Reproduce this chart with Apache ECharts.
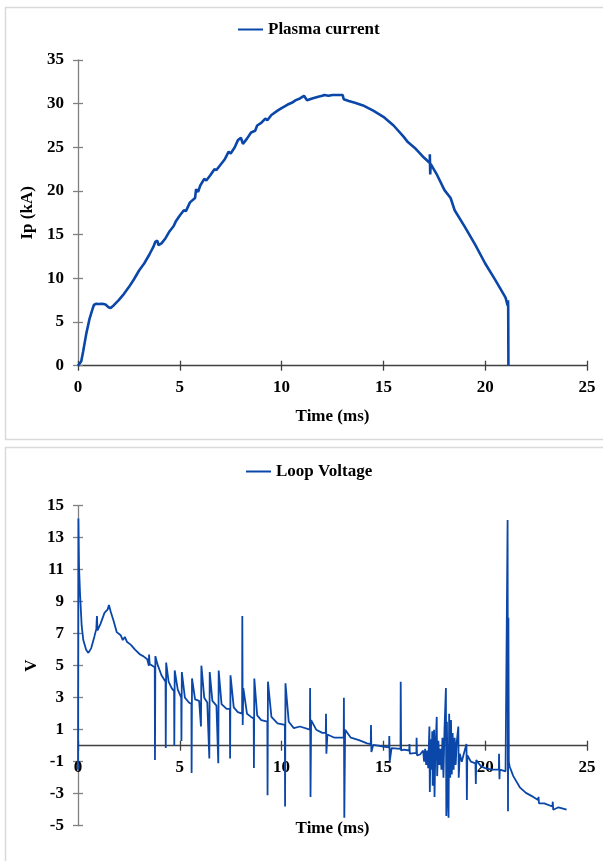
<!DOCTYPE html>
<html>
<head>
<meta charset="utf-8">
<script src="https://cdn.jsdelivr.net/npm/echarts@6/dist/echarts.min.js"></script>
<style>
html,body{margin:0;padding:0;background:#fff;}
#chart{width:603px;height:861px;}
</style>
</head>
<body>
<div id="chart"></div>
<script>
// ---------- DATA ----------
var plasmaTime = [0,0.08,0.16,0.25,0.41,0.57,0.7,0.78,0.9,1.0,1.2,1.35,1.5,1.6,1.75,2.0,2.25,2.5,2.75,3.0,3.25,3.5,3.7,3.8,3.9,3.95,4.1,4.3,4.5,4.7,4.8,4.85,5.0,5.2,5.3,5.5,5.75,5.8,5.9,6.0,6.2,6.3,6.5,6.7,6.8,7.0,7.2,7.4,7.5,7.7,7.85,8.0,8.1,8.3,8.5,8.7,8.8,9.0,9.2,9.3,9.5,9.8,10.0,10.3,10.5,10.7,10.9,11.1,11.25,11.5,11.8,12.0,12.1,12.3,12.5,13.0,13.05,13.3,13.6,14.0,14.5,15.0,15.5,16.0,16.2,16.3,16.6,17.0,17.28,17.28,17.3,17.32,17.6,18.0,18.3,18.5,19.0,19.5,20.0,20.5,21.0,21.1,21.12,21.13,21.14];
var plasmaCurrent = [0,0.1,0.5,1.6,3.7,5.4,6.4,6.95,7.1,7.07,7.1,7.0,6.7,6.6,6.9,7.5,8.2,9.0,9.9,10.9,11.7,12.7,13.6,14.2,14.3,13.8,14.0,14.6,15.4,16.0,16.5,16.3,17.2,17.8,17.7,18.7,19.2,20.2,19.9,20.6,21.4,21.2,21.8,22.5,22.4,23.0,23.6,24.5,24.3,25.0,25.8,26.1,25.4,26.0,26.7,26.9,27.5,27.8,28.3,28.1,28.7,29.2,29.5,29.9,30.1,30.4,30.6,30.9,30.4,30.6,30.8,30.9,31.0,30.9,31.0,31.0,30.5,30.3,30.1,29.8,29.2,28.5,27.5,26.2,25.6,25.4,24.8,23.8,23.2,24.2,21.9,23.1,22.0,20.1,19.2,17.8,15.9,13.9,11.7,9.8,7.8,6.9,7.5,6.6,0];

var loopTime = [0,0.02,0.05,0.1,0.18,0.26,0.4,0.51,0.65,0.8,0.9,0.93,0.96,1.1,1.3,1.45,1.52,1.6,1.75,1.9,2.1,2.2,2.3,2.4,2.6,2.8,3.05,3.2,3.4,3.48,3.49,3.52,3.6,3.77,3.78,3.8,3.9,4.1,4.3,4.31,4.33,4.45,4.6,4.72,4.73,4.75,4.9,5.07,5.08,5.1,5.25,5.45,5.57,5.58,5.6,5.75,5.95,6.03,6.04,6.06,6.2,6.35,6.44,6.45,6.47,6.6,6.8,6.88,6.89,6.91,7.05,7.3,7.46,7.47,7.49,7.65,7.85,8.06,8.07,8.09,8.12,8.3,8.5,8.63,8.64,8.66,8.8,9.0,9.3,9.31,9.33,9.5,9.8,10.16,10.17,10.19,10.35,10.6,10.9,11.39,11.4,11.42,11.45,11.7,12.0,12.17,12.18,12.2,12.25,12.6,13.05,13.06,13.08,13.12,13.4,13.8,14.2,14.38,14.39,14.41,14.5,15.0,15.28,15.29,15.31,15.4,15.84,15.85,15.87,16.0,16.27,16.28,16.3,16.62,16.63,16.65,16.8,16.95,17.0,17.05,17.1,17.15,17.2,17.26,17.28,17.32,17.36,17.4,17.42,17.49,17.51,17.55,17.62,17.64,17.7,17.75,17.8,17.85,17.9,17.95,18.0,18.07,18.09,18.12,18.15,18.2,18.23,18.28,18.32,18.36,18.4,18.45,18.5,18.55,18.6,18.68,18.7,18.75,18.85,18.95,19.08,19.1,19.12,19.3,19.52,19.54,19.56,19.8,20.0,20.3,20.67,20.68,20.7,20.72,21.0,21.08,21.1,21.12,21.14,21.16,21.2,21.38,21.7,22.0,22.36,22.6,22.62,22.64,22.9,23.3,23.32,23.34,23.6,24.0];
var loopVoltage = [-1.5,14.2,11.2,9.5,7.5,6.6,6.0,5.8,6.1,6.8,7.3,8.1,7.2,7.6,8.3,8.5,8.8,8.4,7.8,7.1,6.9,6.6,6.8,6.5,6.3,6.0,5.7,5.6,5.4,5.0,5.7,5.1,5.0,4.9,-0.9,5.6,5.1,4.4,4.0,-0.15,5.2,4.0,3.6,3.4,0.0,4.7,3.5,3.0,0.3,4.6,3.0,2.7,2.6,-1.7,4.2,2.9,2.8,2.9,1.2,5.0,3.0,2.7,2.6,-0.8,4.6,2.8,2.5,2.5,-1.1,4.7,2.6,2.3,2.3,-0.8,4.4,2.4,2.1,2.0,8.1,1.3,3.6,2.0,1.8,1.7,-1.4,4.2,1.9,1.6,1.5,-3.1,4.0,1.8,1.4,1.3,-3.8,3.9,1.5,1.1,1.2,1.0,3.6,-3.2,1.6,1.0,0.8,0.8,2.0,-0.5,0.7,0.5,0.5,3.0,-4.5,1.0,0.5,0.35,0.15,0.1,1.3,-0.4,0.05,-0.05,-0.1,0.6,-1.0,-0.15,-0.2,4.0,-0.3,-0.25,-0.3,0.1,-0.5,-0.45,0.5,-0.6,-0.55,-0.3,-1.0,-0.2,-1.2,-0.3,-1.4,1.2,-2.9,0.4,-1.5,0.9,-2.5,1.0,-3.2,-0.5,1.8,-1.9,0.3,-1.2,-0.2,-1.5,0.5,-2.0,1.0,3.6,-4.4,1.5,-2.5,-4.5,2.0,-2.0,1.6,-1.8,0.8,-1.5,0.5,-1.2,0.2,1.2,-2.0,-0.5,-1.0,-0.5,0.1,-3.4,-0.6,-1.0,-1.1,-2.4,-0.9,-1.3,-1.4,-1.5,-1.5,-0.5,-2.1,-1.5,-1.6,-1.6,14.1,-4.1,8.0,-1.0,-1.3,-1.9,-2.6,-2.95,-3.2,-3.4,-3.2,-3.6,-3.6,-3.8,-3.5,-4.0,-3.85,-4.0];

var timeTicks = [0,5,10,15,20,25];
var currentTicks = [0,5,10,15,20,25,30,35];
var voltageTicks = [-5,-3,-1,1,3,5,7,9,11,13,15];

// ---------- BUILD ----------
function zip(a,b){var r=[];for(var i=0;i<a.length;i++)r.push([a[i],b[i]]);return r;}
var FONT = 'Liberation Serif';
var LINE = '#0a47a9';
var labelStyle = {fontFamily:FONT,fontWeight:'bold',fontSize:17,color:'#000'};
var nameStyle = {fontFamily:FONT,fontWeight:'bold',fontSize:17,color:'#000'};

// bottom panel: voltage axis spans -5..15 over 320px, so the zero line sits 5/20 of the height above the bottom
var bottomGridH = 320;
var zeroOffset = -bottomGridH * (0 - (-5)) / (15 - (-5));

function xAx(grid, main, name, gap, offset){
  return {
    type:'value', gridIndex:grid, min:0, max:25, position:'bottom', offset:offset,
    name: main ? name : '', nameLocation:'middle', nameGap:gap, nameTextStyle:nameStyle, nameMoveOverlap:false,
    axisLine:{show:main, onZero:false, lineStyle:{color:'#404040',width:1.3}},
    axisTick:{show:true, inside:!main, length:5, customValues:timeTicks, lineStyle:{color:'#404040',width:1.3}},
    axisLabel:{show:main, margin:13, customValues:timeTicks, ...labelStyle},
    splitLine:{show:false}
  };
}
function yAx(grid, main, name, gap, min, max, ticks){
  return {
    type:'value', gridIndex:grid, min:min, max:max, position:'left',
    name: main ? name : '', nameLocation:'middle', nameGap:gap, nameTextStyle:nameStyle, nameMoveOverlap:false,
    axisLine:{show:main, onZero:false, lineStyle:{color:'#808080',width:1.3}},
    axisTick:{show:true, inside:!main, length:5, customValues:ticks, lineStyle:{color:'#808080',width:1.3}},
    axisLabel:{show:main, margin:14, customValues:ticks, ...labelStyle},
    splitLine:{show:false}
  };
}

var chart = echarts.init(document.getElementById('chart'), null, {renderer:'canvas'});
chart.setOption({
  animation:false,
  backgroundColor:'#fff',
  graphic:[
    {type:'rect', shape:{x:5.5,y:7.5,width:620,height:432}, style:{fill:'none',stroke:'#d9d9d9',lineWidth:1.5}, z:-10},
    {type:'rect', shape:{x:5.5,y:447.5,width:620,height:440}, style:{fill:'none',stroke:'#d9d9d9',lineWidth:1.5}, z:-10}
  ],
  grid:[
    {left:78, top:60, width:509, height:305.7, outerBoundsMode:'none', containLabel:false},
    {left:78, top:505.7, width:509, height:bottomGridH, outerBoundsMode:'none', containLabel:false}
  ],
  legend:[
    {left:238, top:21, padding:0, icon:'rect', itemWidth:25, itemHeight:2, data:['Plasma current'],
     textStyle:{fontFamily:FONT,fontWeight:'bold',fontSize:17,color:'#000'}},
    {left:246, top:463, padding:0, icon:'rect', itemWidth:25, itemHeight:2, data:['Loop Voltage'],
     textStyle:{fontFamily:FONT,fontWeight:'bold',fontSize:17,color:'#000'}}
  ],
  xAxis:[
    xAx(0,true,'Time (ms)',42,0),
    xAx(1,true,'Time (ms)',74,zeroOffset),
    xAx(0,false,'',0,0),
    xAx(1,false,'',0,zeroOffset)
  ],
  yAxis:[
    yAx(0,true,'Ip (kA)',42,0,35,currentTicks),
    yAx(1,true,'V',38,-5,15,voltageTicks),
    yAx(0,false,'',0,0,35,currentTicks),
    yAx(1,false,'',0,-5,15,voltageTicks)
  ],
  series:[
    {name:'Plasma current', type:'line', xAxisIndex:0, yAxisIndex:0, symbol:'none', showSymbol:false,
     lineStyle:{color:LINE,width:2.6}, itemStyle:{color:LINE}, data:zip(plasmaTime,plasmaCurrent), z:5},
    {name:'Loop Voltage', type:'line', xAxisIndex:1, yAxisIndex:1, symbol:'none', showSymbol:false,
     lineStyle:{color:LINE,width:1.8}, itemStyle:{color:LINE}, data:zip(loopTime,loopVoltage), z:5}
  ]
});
</script>
</body>
</html>
